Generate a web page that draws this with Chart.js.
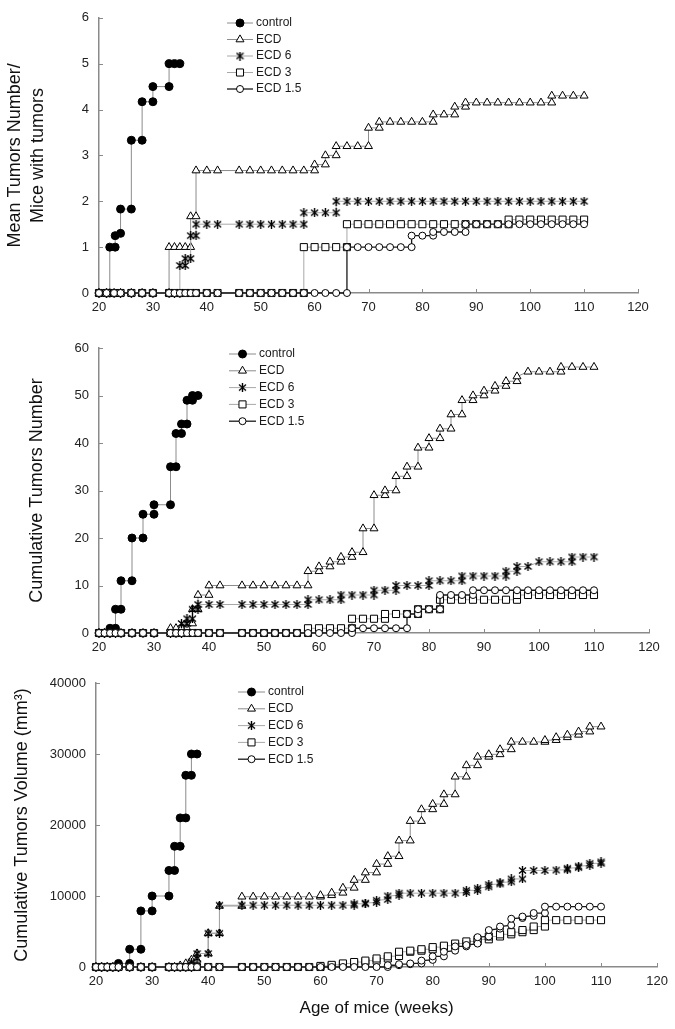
<!DOCTYPE html>
<html>
<head>
<meta charset="utf-8">
<script src="https://cdn.jsdelivr.net/npm/chart.js@4.4.0/dist/chart.umd.min.js"></script>
<style>
  html, body { margin: 0; padding: 0; background: #fff; }
  body { width: 675px; height: 1029px; position: relative; overflow: hidden; }
  canvas { position: absolute; left: 0; }
</style>
</head>
<body>
<canvas id="meanChart" width="675" height="320" style="top:0"></canvas>
<canvas id="countChart" width="675" height="340" style="top:320px"></canvas>
<canvas id="volumeChart" width="675" height="369" style="top:660px"></canvas>
<script>
// ---- data (week, value) ----
const seriesNames = ['control', 'ECD', 'ECD 6', 'ECD 3', 'ECD 1.5'];
const weekTicks = [20, 30, 40, 50, 60, 70, 80, 90, 100, 110, 120];
const meanTicks = [0, 1, 2, 3, 4, 5, 6];
const countTicks = [0, 10, 20, 30, 40, 50, 60];
const volumeTicks = [0, 10000, 20000, 30000, 40000];

// Mean tumors number / mice with tumors
const meanControl = [[20,0],[21.4,0],[22,0],[22,1],[23,1],[23,1.25],[24,1.3],[24,1.83],[26,1.83],[26,3.33],[28,3.33],[28,4.17],[30,4.17],[30,4.5],[33,4.5],[33,5],[34,5],[35,5]];
const meanECD = [[20,0],[21.4,0],[22.8,0],[24,0],[26,0],[28,0],[30,0],[33,0],[33,1],[34,1],[35,1],[36,1],[37,1],[37,1.67],[38,1.67],[38,2.67],[40,2.67],[42,2.67],[46,2.67],[48,2.67],[50,2.67],[52,2.67],[54,2.67],[56,2.67],[58,2.67],[60,2.67],[60,2.8],[62,2.8],[62,3],[64,3],[64,3.2],[66,3.2],[68,3.2],[70,3.2],[70,3.6],[72,3.6],[72,3.73],[74,3.73],[76,3.73],[78,3.73],[80,3.73],[82,3.73],[82,3.89],[84,3.89],[86,3.89],[86,4.06],[88,4.06],[88,4.15],[90,4.15],[92,4.15],[94,4.15],[96,4.15],[98,4.15],[100,4.15],[102,4.15],[104,4.15],[104,4.3],[106,4.3],[108,4.3],[110,4.3]];
const meanECD6 = [[20,0],[21.4,0],[22.8,0],[24,0],[26,0],[28,0],[30,0],[33,0],[34,0],[35,0],[35,0.6],[36,0.6],[36,0.75],[37,0.75],[37,1.25],[38,1.25],[38,1.5],[40,1.5],[42,1.5],[46,1.5],[48,1.5],[50,1.5],[52,1.5],[54,1.5],[56,1.5],[58,1.5],[58,1.75],[60,1.75],[62,1.75],[64,1.75],[64,2],[66,2],[68,2],[70,2],[72,2],[74,2],[76,2],[78,2],[80,2],[82,2],[84,2],[86,2],[88,2],[90,2],[92,2],[94,2],[96,2],[98,2],[100,2],[102,2],[104,2],[106,2],[108,2],[110,2]];
const meanECD3 = [[20,0],[21.4,0],[22.8,0],[24,0],[26,0],[28,0],[30,0],[33,0],[34,0],[35,0],[36,0],[37,0],[38,0],[40,0],[42,0],[46,0],[48,0],[50,0],[52,0],[54,0],[56,0],[58,0],[58,1],[60,1],[62,1],[64,1],[66,1],[66,1.5],[68,1.5],[70,1.5],[72,1.5],[74,1.5],[76,1.5],[78,1.5],[80,1.5],[82,1.5],[84,1.5],[86,1.5],[88,1.5],[90,1.5],[92,1.5],[94,1.5],[96,1.5],[96,1.6],[98,1.6],[100,1.6],[102,1.6],[104,1.6],[106,1.6],[108,1.6],[110,1.6]];
const meanECD15 = [[20,0],[21.4,0],[22.8,0],[24,0],[26,0],[28,0],[30,0],[33,0],[34,0],[35,0],[36,0],[37,0],[38,0],[40,0],[42,0],[46,0],[48,0],[50,0],[52,0],[54,0],[56,0],[58,0],[60,0],[62,0],[64,0],[66,0],[66,1],[68,1],[70,1],[72,1],[74,1],[76,1],[78,1],[78,1.25],[80,1.25],[82,1.25],[82,1.33],[84,1.33],[86,1.33],[88,1.33],[88,1.5],[90,1.5],[92,1.5],[94,1.5],[96,1.5],[98,1.5],[100,1.5],[102,1.5],[104,1.5],[106,1.5],[108,1.5],[110,1.5]];

// Cumulative tumors number
const countControl = [[20,0],[21,0],[22,0],[22,1],[23,1],[23,5],[24,5],[24,11],[26,11],[26,20],[28,20],[28,25],[30,25],[30,27],[33,27],[33,35],[34,35],[34,42],[35,42],[35,44],[36,44],[36,49],[37,49],[37,50],[38,50]];
const countECD = [[20,0],[21,0],[22,0],[23,0],[24,0],[26,0],[28,0],[30,0],[33,0],[33,1],[34,1],[35,1],[36,1],[36,2],[37,2],[37,5],[38,5],[38,8],[40,8],[40,10],[42,10],[46,10],[48,10],[50,10],[52,10],[54,10],[56,10],[58,10],[58,13],[60,13],[60,14],[62,14],[62,15],[64,15],[64,16],[66,16],[66,17],[68,17],[68,22],[70,22],[70,29],[72,29],[72,30],[74,30],[74,33],[76,33],[76,35],[78,35],[78,39],[80,39],[80,41],[82,41],[82,43],[84,43],[84,46],[86,46],[86,49],[88,49],[88,50],[90,50],[90,51],[92,51],[92,52],[94,52],[94,53],[96,53],[96,54],[98,55],[100,55],[102,55],[104,55],[104,56],[106,56],[108,56],[110,56]];
const countECD6 = [[20,0],[21,0],[22,0],[23,0],[24,0],[26,0],[28,0],[30,0],[33,0],[34,0],[35,0],[35,2],[36,2],[36,3],[37,3],[37,5],[38,5],[38,6],[40,6],[42,6],[46,6],[48,6],[50,6],[52,6],[54,6],[56,6],[58,6],[58,7],[60,7],[62,7],[64,7],[64,8],[66,8],[68,8],[70,8],[70,9],[72,9],[74,9],[74,10],[76,10],[78,10],[80,10],[80,11],[82,11],[84,11],[86,11],[86,12],[88,12],[90,12],[92,12],[94,12],[94,13],[96,13],[96,14],[98,14],[100,15],[102,15],[104,15],[106,15],[106,16],[108,16],[110,16]];
const countECD3 = [[20,0],[21,0],[22,0],[23,0],[24,0],[26,0],[28,0],[30,0],[33,0],[34,0],[35,0],[36,0],[37,0],[38,0],[40,0],[42,0],[46,0],[48,0],[50,0],[52,0],[54,0],[56,0],[58,0],[58,1],[60,1],[62,1],[64,1],[66,1],[66,3],[68,3],[70,3],[72,3],[72,4],[74,4],[76,4],[78,4],[78,5],[80,5],[82,5],[82,7],[84,7],[86,7],[88,7],[90,7],[92,7],[94,7],[96,7],[96,8],[98,8],[100,8],[102,8],[104,8],[106,8],[108,8],[110,8]];
const countECD15 = [[20,0],[21,0],[22,0],[23,0],[24,0],[26,0],[28,0],[30,0],[33,0],[34,0],[35,0],[36,0],[37,0],[38,0],[40,0],[42,0],[46,0],[48,0],[50,0],[52,0],[54,0],[56,0],[58,0],[60,0],[62,0],[64,0],[66,0],[66,1],[68,1],[70,1],[72,1],[74,1],[76,1],[76,4],[78,4],[78,5],[80,5],[82,5],[82,8],[84,8],[86,8],[88,8],[88,9],[90,9],[92,9],[94,9],[96,9],[98,9],[100,9],[102,9],[104,9],[106,9],[108,9],[110,9]];

// Cumulative tumors volume (mm3)
const volControl = [[20,0],[21,0],[22,0],[23,0],[24,0],[24,500],[26,500],[26,2500],[28,2500],[28,7900],[30,7900],[30,10000],[33,10000],[33,13600],[34,13600],[34,17000],[35,17000],[35,21000],[36,21000],[36,27000],[37,27000],[37,30000],[38,30000]];
const volECD = [[20,0],[21,0],[22,0],[23,0],[24,0],[26,0],[28,0],[30,0],[33,0],[34,0],[35,0],[35,200],[36,200],[36,500],[37,500],[37,1000],[38,1000],[38,1900],[40,1900],[40,4750],[42,4750],[42,8600],[46,8600],[46,9900],[48,9900],[50,9900],[52,9900],[54,9900],[56,9900],[58,9900],[60,9900],[60,10100],[62,10100],[62,10450],[64,10450],[64,11150],[66,11150],[66,12250],[68,12250],[68,13300],[70,13300],[70,14500],[72,14500],[72,15600],[74,15600],[74,17800],[76,17800],[76,20550],[78,20550],[78,22200],[80,22200],[80,22950],[82,22950],[82,24300],[84,24300],[84,26800],[86,26800],[86,28400],[88,28400],[88,29600],[90,29600],[90,29950],[92,29950],[92,30650],[94,30650],[94,31700],[96,31700],[98,31700],[100,31700],[100,31950],[102,31950],[102,32350],[104,32350],[104,32700],[106,32700],[106,33150],[108,33150],[108,33850],[110,33850]];
const volECD6 = [[20,0],[21,0],[22,0],[23,0],[24,0],[26,0],[28,0],[30,0],[33,0],[34,0],[35,0],[36,0],[37,0],[37,700],[38,1200],[38,1900],[40,1900],[40,4750],[42,4750],[42,8700],[46,8700],[48,8700],[50,8700],[52,8700],[54,8700],[56,8700],[58,8700],[60,8700],[62,8700],[64,8700],[66,8700],[66,8900],[68,8900],[68,9000],[70,9100],[70,9400],[72,9500],[72,10000],[74,10100],[74,10400],[76,10400],[78,10400],[80,10400],[82,10400],[84,10400],[86,10500],[86,10800],[88,10800],[88,11100],[90,11300],[90,11600],[92,11700],[92,11900],[94,12000],[94,12400],[96,12400],[96,13600],[98,13600],[100,13600],[102,13650],[104,13700],[104,13900],[106,14000],[106,14200],[108,14300],[108,14600],[110,14600],[110,14800]];
const volECD3 = [[20,0],[21,0],[22,0],[23,0],[24,0],[26,0],[28,0],[30,0],[33,0],[34,0],[35,0],[36,0],[37,0],[38,0],[40,0],[42,0],[46,0],[48,0],[50,0],[52,0],[54,0],[56,0],[58,0],[60,0],[60,150],[62,150],[62,300],[64,300],[64,500],[66,500],[66,700],[68,700],[68,900],[70,900],[70,1200],[72,1200],[72,1500],[74,1550],[74,2150],[76,2150],[76,2300],[78,2300],[78,2500],[80,2500],[80,2800],[82,2800],[82,3000],[84,3000],[84,3300],[86,3300],[86,3600],[88,3600],[88,3900],[90,3900],[90,4300],[92,4300],[92,4600],[94,4600],[94,4900],[96,4900],[96,5200],[98,5200],[98,5700],[100,5700],[100,6600],[102,6600],[104,6600],[106,6600],[108,6600],[110,6600]];
const volECD15 = [[20,0],[21,0],[22,0],[23,0],[24,0],[26,0],[28,0],[30,0],[33,0],[34,0],[35,0],[36,0],[37,0],[38,0],[40,0],[42,0],[46,0],[48,0],[50,0],[52,0],[54,0],[56,0],[58,0],[60,0],[62,0],[64,0],[66,0],[68,0],[70,0],[72,0],[72,250],[74,250],[74,400],[76,400],[76,500],[78,500],[78,900],[80,1000],[80,1500],[82,1500],[82,2150],[84,2300],[84,2900],[86,2900],[86,3100],[88,3300],[88,4200],[90,4300],[90,5200],[92,5400],[92,5700],[94,5900],[94,6800],[96,6900],[96,7100],[98,7200],[98,7600],[100,7600],[100,8500],[102,8500],[104,8500],[106,8500],[108,8500],[110,8500]];

// ---- styling ----
const FONT = '"Liberation Sans", Arial, sans-serif';
const AXIS = '#8a8a8a';
Chart.defaults.font.family = FONT;

// asterisk marker (x with a vertical bar), like Excel's star
function makeStar() {
  const c = document.createElement('canvas');
  c.width = 9; c.height = 9;
  const g = c.getContext('2d');
  g.strokeStyle = '#000';
  g.lineWidth = 1.4;
  g.beginPath();
  g.moveTo(1, 1.5); g.lineTo(8, 7.5);
  g.moveTo(8, 1.5); g.lineTo(1, 7.5);
  g.moveTo(4.5, 0); g.lineTo(4.5, 9);
  g.stroke();
  return c;
}
const starImg = makeStar();

const looks = [
  { pointStyle: 'circle', pointRadius: 4, pointBackgroundColor: '#000', pointBorderColor: '#000', pointBorderWidth: 1, borderColor: '#8c8c8c', borderWidth: 1, order: 4 },
  { pointStyle: 'triangle', pointRadius: 4.6, pointBackgroundColor: '#fff', pointBorderColor: '#000', pointBorderWidth: 1, borderColor: '#8c8c8c', borderWidth: 1, order: 3 },
  { pointStyle: starImg, pointRadius: 4.5, pointBackgroundColor: '#000', pointBorderColor: '#000', pointBorderWidth: 1, borderColor: '#a8a8a8', borderWidth: 1, order: 2 },
  { pointStyle: 'rect', pointRadius: 5, pointBackgroundColor: '#fff', pointBorderColor: '#000', pointBorderWidth: 1, borderColor: '#a8a8a8', borderWidth: 1, order: 1 },
  { pointStyle: 'circle', pointRadius: 3.5, pointBackgroundColor: '#fff', pointBorderColor: '#000', pointBorderWidth: 1, borderColor: '#1a1a1a', borderWidth: 1.3, order: 0 },
];

function buildDatasets(groups) {
  return groups.map((pts, i) => ({
    label: seriesNames[i],
    data: pts.map(([x, y]) => ({ x, y })),
    showLine: true,
    fill: false,
    tension: 0,
    clip: false,
    ...looks[i],
  }));
}

// inward tick marks like the original
const innerTicks = {
  id: 'innerTicks',
  beforeDatasetsDraw(chart) {
    const { ctx, scales: { x, y } } = chart;
    ctx.save();
    ctx.strokeStyle = AXIS;
    ctx.lineWidth = 1;
    ctx.beginPath();
    x.ticks.forEach((t, i) => {
      const px = Math.round(x.getPixelForTick(i)) + 0.5;
      ctx.moveTo(px, x.top); ctx.lineTo(px, x.top - 4);
    });
    y.ticks.forEach((t, i) => {
      const py = Math.round(y.getPixelForTick(i)) + 0.5;
      ctx.moveTo(y.right, py); ctx.lineTo(y.right + 4, py);
    });
    ctx.stroke();
    ctx.restore();
  }
};

// legend drawn inside the plot area
const stepLegend = {
  id: 'stepLegend',
  afterDraw(chart, args, opts) {
    const ctx = chart.ctx;
    ctx.save();
    ctx.font = '12px ' + FONT;
    ctx.textBaseline = 'middle';
    ctx.textAlign = 'left';
    chart.data.datasets.forEach((ds, i) => {
      const y = opts.top + i * opts.gap;
      ctx.strokeStyle = ds.borderColor;
      ctx.lineWidth = ds.borderWidth;
      ctx.beginPath();
      ctx.moveTo(opts.left, y); ctx.lineTo(opts.left + opts.len, y);
      ctx.stroke();
      ctx.fillStyle = ds.pointBackgroundColor;
      ctx.strokeStyle = ds.pointBorderColor;
      ctx.lineWidth = ds.pointBorderWidth;
      Chart.helpers.drawPoint(ctx, { pointStyle: ds.pointStyle, radius: ds.pointRadius, rotation: 0, borderWidth: ds.pointBorderWidth }, opts.left + opts.len / 2, y);
      ctx.fillStyle = '#1a1a1a';
      ctx.fillText(ds.label, opts.left + opts.len + 3, y);
    });
    ctx.restore();
  }
};

function makeChart(id, groups, yTicks, yTitle, g) {
  return new Chart(document.getElementById(id), {
    type: 'scatter',
    data: { datasets: buildDatasets(groups) },
    plugins: [innerTicks, stepLegend],
    options: {
      responsive: false,
      animation: false,
      devicePixelRatio: 1,
      layout: { padding: { left: 0, right: g.right, top: g.top, bottom: 0 } },
      plugins: {
        legend: { display: false },
        tooltip: { enabled: false },
        stepLegend: g.legend,
      },
      scales: {
        x: {
          type: 'linear', min: 20, max: 120,
          afterBuildTicks: s => { s.ticks = weekTicks.map(v => ({ value: v })); },
          afterFit: s => { s.height = g.xHeight; },
          grid: { display: false, drawTicks: false },
          border: { display: true, color: AXIS, width: 1.5 },
          ticks: { padding: 7, color: '#222', font: { size: 13 }, maxRotation: 0, callback: v => String(v) },
          title: g.xTitle
            ? { display: true, text: g.xTitle, color: '#111', font: { size: 17 }, padding: { top: 0, bottom: 10 } }
            : { display: false },
        },
        y: {
          type: 'linear', min: yTicks[0], max: yTicks[yTicks.length - 1],
          afterBuildTicks: s => { s.ticks = yTicks.map(v => ({ value: v })); },
          afterFit: s => { s.width = g.yWidth; },
          grid: { display: false, drawTicks: false },
          border: { display: true, color: AXIS, width: 1.5 },
          ticks: { padding: 10, color: '#222', font: { size: 13 }, callback: v => String(v) },
          title: { display: true, text: yTitle, color: '#111', font: { size: 18, lineHeight: 1.25 }, padding: { top: g.titlePad, bottom: 0 } },
        },
      },
    },
  });
}

makeChart('meanChart',
  [meanControl, meanECD, meanECD6, meanECD3, meanECD15],
  meanTicks, ['Mean Tumors Number/', 'Mice with tumors'],
  { top: 7, right: 37, yWidth: 99, xHeight: 27, titlePad: 4,
    legend: { left: 227, top: 23, gap: 16.5, len: 26 } });

makeChart('countChart',
  [countControl, countECD, countECD6, countECD3, countECD15],
  countTicks, 'Cumulative Tumors Number',
  { top: 28, right: 26, yWidth: 99, xHeight: 27, titlePad: 26,
    legend: { left: 229, top: 34, gap: 16.8, len: 27 } });

makeChart('volumeChart',
  [volControl, volECD, volECD6, volECD3, volECD15],
  volumeTicks, 'Cumulative Tumors Volume (mm³)',
  { top: 23, right: 13, yWidth: 96, xHeight: 62, titlePad: 11, xTitle: 'Age of mice (weeks)',
    legend: { left: 238, top: 32, gap: 16.8, len: 27 } });
</script>
</body>
</html>
